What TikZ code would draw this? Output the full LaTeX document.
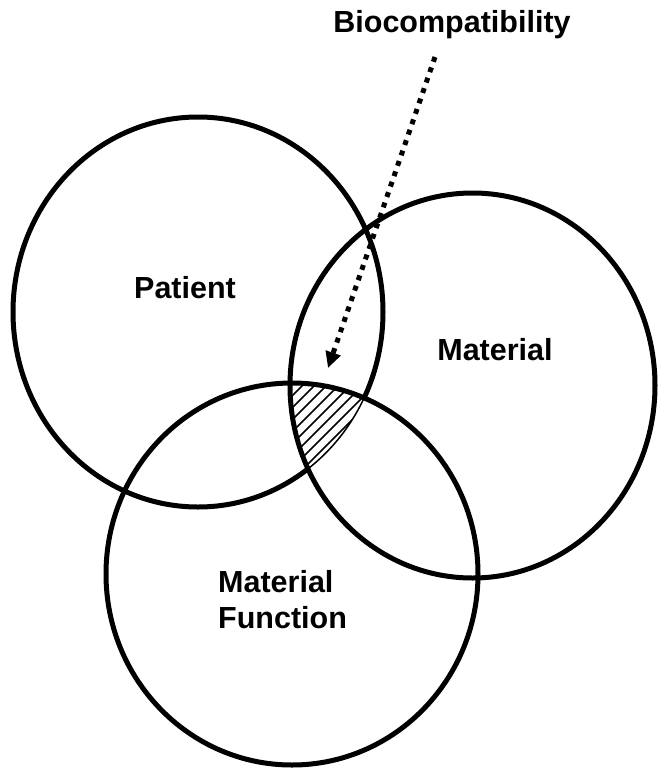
\documentclass[tikz,border=0pt]{standalone}
\usepackage{fontspec}
\setmainfont{Liberation Sans}
\usetikzlibrary{arrows.meta}
\begin{document}
\begin{tikzpicture}[x=1pt,y=-1pt,
  circ/.style={line width=5pt},
  lbl/.style={font=\fontsize{30.5}{36}\selectfont\bfseries, inner sep=0pt},
  hatchline/.style={line width=1.7pt},
  dotline/.style={line width=5pt, dash pattern=on 5pt off 6pt}]
\useasboundingbox (0,0) rectangle (657,769);
\def\PatPath{(198,312) ellipse [x radius=185pt, y radius=195pt]}
\def\MatPath{(472.5,385.5) ellipse [x radius=182.5pt, y radius=192.5pt]}
\def\FunPath{(292,574) ellipse [x radius=186pt, y radius=191pt]}
% Patient circle
\draw[circ] \PatPath;
% erase Patient arc inside Material and Material Function
\begin{scope}
  \clip \MatPath;
  \clip \FunPath;
  \fill[white] (0,0) rectangle (657,769);
  \draw[line width=1.5pt] \PatPath;
  \clip \PatPath;
  \foreach \c in {640,652,...,830}
    \draw[hatchline] (\c-500,500) -- ++(220,-220);
\end{scope}
% Material and Material Function circles
\draw[circ] \MatPath;
\draw[circ] \FunPath;
% labels
\node[lbl, anchor=base] (patient) at (185,298) {Patient};
\node[lbl, anchor=base] (material) at (495,360) {Material};
\node[lbl, anchor=base west] (mf1) at (218,592) {Material};
\node[lbl, anchor=base west] (mf2) at (218,628) {Function};
\node[lbl, anchor=base] (bio) at (452,32) {Biocompatibility};
% arrow
\coordinate (arrS) at (435,57);
\coordinate (arrE) at (328,368);
\draw[dotline, -{Triangle[length=16pt,width=15pt]}] (arrS) -- (arrE);
\end{tikzpicture}
\end{document}
